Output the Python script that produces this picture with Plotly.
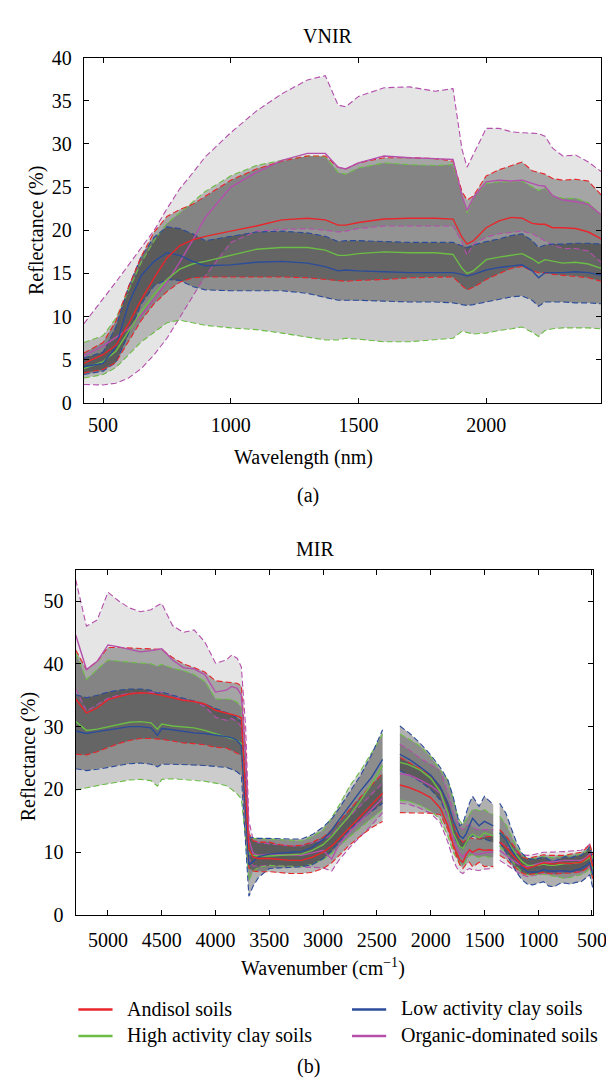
import plotly.graph_objects as go

# ---------------- VNIR data (wavelength, nm) ----------------
vnir_nm = [425, 500, 550, 600, 650, 700, 750, 800, 850, 900,
           1000, 1100, 1200, 1300, 1370, 1420, 1450, 1500, 1600, 1700,
           1800, 1870, 1905, 1925, 1950, 2000, 2050, 2100, 2140, 2180,
           2205, 2230, 2260, 2300, 2350, 2400, 2450]

org_hi = [9.2, 12.0, 14.0, 16.0, 18.0, 20.0, 22.5, 24.8, 26.6, 28.5,
          31.3, 33.8, 35.8, 37.4, 37.9, 34.5, 34.3, 35.5, 36.5, 36.6,
          36.1, 36.4, 29.4, 27.3, 28.8, 31.8, 31.8, 31.4, 31.3, 31.2,
          31.2, 30.9, 29.5, 28.6, 28.7, 27.9, 26.8]
org_m = [5.5, 6.6, 7.6, 8.6, 10.2, 12.0, 14.0, 16.3, 18.8, 21.5,
         25.0, 26.7, 28.1, 28.9, 28.9, 27.3, 27.1, 27.8, 28.6, 28.4,
         28.3, 28.2, 24.0, 22.3, 23.8, 25.6, 25.8, 25.7, 25.8, 25.4,
         25.2, 25.1, 24.0, 23.5, 23.3, 23.0, 21.8]
org_lo = [2.15, 2.1, 2.3, 2.9, 4.0, 5.6, 7.5, 9.9, 12.3, 14.7,
          18.6, 19.9, 20.1, 20.2, 20.0, 19.8, 19.9, 20.2, 20.5, 20.5,
          20.5, 20.5, 18.6, 17.1, 18.4, 19.2, 19.6, 19.8, 19.9, 19.6,
          19.2, 18.8, 18.3, 17.9, 17.9, 17.6, 16.3]

and_hi = [5.8, 7.0, 9.5, 13.5, 17.0, 19.8, 21.6, 22.4, 23.0, 23.9,
          25.8, 27.1, 28.0, 28.6, 28.6, 27.3, 27.1, 27.8, 28.4, 28.4,
          28.3, 28.0, 24.5, 23.5, 24.0, 26.3, 27.0, 27.5, 27.9, 26.9,
          26.7, 26.5, 26.0, 25.8, 25.9, 25.7, 24.1]
and_m = [4.6, 5.6, 6.7, 9.2, 12.0, 14.5, 16.8, 18.2, 18.9, 19.3,
         19.9, 20.5, 21.2, 21.4, 21.2, 20.6, 20.6, 20.9, 21.3, 21.4,
         21.4, 21.3, 19.2, 18.4, 18.8, 20.3, 21.1, 21.5, 21.4, 20.8,
         20.7, 20.7, 20.3, 20.3, 20.2, 19.8, 19.0]
and_lo = [3.5, 3.9, 4.7, 7.2, 9.6, 11.5, 12.9, 14.0, 14.5, 14.6,
          14.6, 14.6, 14.6, 14.5, 14.3, 14.1, 14.1, 14.2, 14.3, 14.5,
          14.6, 14.6, 13.6, 13.1, 13.4, 14.3, 15.0, 15.6, 15.8, 15.3,
          15.1, 15.1, 14.9, 14.8, 14.7, 14.5, 14.1]

hac_hi = [7.0, 7.8, 9.8, 13.0, 16.3, 18.8, 20.8, 22.0, 23.3, 24.5,
          26.3, 27.5, 28.1, 28.6, 28.5, 26.7, 26.5, 27.2, 27.8, 27.6,
          27.5, 27.6, 24.0, 22.0, 23.8, 25.4, 25.6, 25.6, 25.7, 25.0,
          24.6, 24.9, 24.0, 23.7, 23.7, 23.2, 21.8]
hac_m = [4.0, 4.8, 6.0, 8.3, 10.6, 12.6, 14.3, 15.5, 16.1, 16.4,
         17.1, 17.8, 18.0, 18.0, 17.7, 17.1, 17.1, 17.3, 17.5, 17.4,
         17.4, 17.2, 15.6, 15.0, 15.3, 16.6, 16.9, 17.1, 17.3, 16.7,
         16.2, 16.6, 16.4, 16.2, 16.3, 16.1, 15.6]
hac_lo = [2.9, 3.3, 4.1, 5.6, 7.1, 8.2, 9.3, 9.6, 9.3, 9.0,
          8.7, 8.5, 8.1, 7.6, 7.3, 7.3, 7.5, 7.4, 7.1, 7.1,
          7.3, 7.5, 8.3, 8.2, 8.0, 8.1, 8.4, 8.6, 8.8, 8.2,
          7.7, 8.4, 8.6, 8.7, 8.7, 8.7, 8.6]

lac_hi = [5.2, 5.9, 8.8, 13.5, 17.0, 19.2, 20.4, 20.2, 19.6, 18.8,
          19.3, 19.8, 19.9, 19.7, 19.3, 18.7, 18.8, 18.8, 18.7, 18.6,
          18.6, 18.6, 18.2, 18.0, 18.3, 18.7, 19.0, 19.4, 19.6, 18.8,
          18.0, 18.3, 18.4, 18.4, 18.5, 18.5, 18.4]
lac_m = [4.2, 4.6, 6.5, 11.5, 14.8, 16.4, 17.4, 17.1, 16.4, 15.9,
         16.0, 16.3, 16.4, 16.2, 15.8, 15.3, 15.4, 15.3, 15.2, 15.1,
         15.1, 15.1, 14.9, 14.7, 14.9, 15.4, 15.7, 15.9, 16.0, 15.3,
         14.5, 15.1, 15.1, 15.1, 15.2, 15.1, 14.8]
lac_lo = [3.3, 3.7, 4.7, 8.0, 11.5, 13.6, 14.3, 14.2, 13.5, 13.1,
          13.0, 13.0, 13.0, 12.7, 12.2, 11.9, 11.9, 11.9, 11.8, 11.7,
          11.7, 11.6, 11.4, 11.3, 11.4, 11.7, 12.0, 12.3, 12.4, 11.9,
          11.2, 11.7, 11.7, 11.7, 11.6, 11.6, 11.5]

# ---------------- MIR data (wavenumber, cm-1), three segments ----------------
mir_wn_a = [5300, 5200, 5100, 5000, 4900, 4800, 4700, 4600, 4540, 4500,
            4400, 4300, 4200, 4100, 4000, 3900, 3850, 3800, 3760, 3720,
            3690, 3650, 3600, 3500, 3400, 3300, 3200, 3100, 3000, 2920,
            2850, 2750, 2650, 2550, 2447]
mir_wn_b = [2286, 2200, 2100, 2000, 1910, 1840, 1790, 1760, 1730, 1700,
            1670, 1640, 1610, 1580, 1550, 1500, 1460, 1418]
mir_wn_c = [1358, 1300, 1250, 1200, 1150, 1100, 1050, 1000, 950, 900,
            850, 800, 750, 700, 650, 600, 550, 520, 493]

mir_org_hi = ([53.4, 46.0, 47.0, 51.4, 50.0, 48.9, 48.3, 48.6, 49.3, 49.6,
               46.1, 45.0, 45.4, 43.5, 40.1, 40.6, 41.4, 40.9, 39.5, 30.0,
               15.0, 12.0, 11.5, 11.3, 11.1, 11.0, 11.0, 11.5, 12.0, 12.8,
               14.0, 15.8, 17.5, 19.3, 21.0]
              + [27.2, 26.3, 25.0, 24.0, 23.0, 19.4, 16.3, 15.0, 14.0, 13.6,
                 14.2, 14.4, 14.0, 13.7, 13.6, 13.6, 13.6, 13.6]
              + [11.6, 11.0, 10.5, 10.0, 9.6, 9.5, 9.6, 9.8, 10.0, 10.0,
                 10.0, 10.1, 10.1, 10.2, 10.2, 10.3, 10.8, 11.3, 9.5])
mir_org_m = ([44.6, 39.1, 40.4, 43.0, 42.7, 42.3, 41.9, 42.1, 42.3, 42.4,
              40.6, 39.4, 39.2, 38.3, 35.5, 35.8, 36.4, 36.1, 35.0, 25.0,
              12.0, 9.8, 9.5, 9.7, 9.6, 9.5, 9.5, 9.9, 10.3, 8.9,
              11.3, 13.3, 15.0, 16.8, 18.6]
             + [22.5, 22.3, 21.5, 20.6, 19.4, 15.7, 12.2, 10.8, 9.8, 9.2,
                9.9, 10.2, 9.9, 9.7, 9.7, 9.9, 10.0, 10.0]
             + [10.3, 9.5, 8.9, 8.3, 7.8, 7.7, 7.9, 8.2, 8.4, 8.4,
                8.5, 8.7, 8.7, 8.7, 8.7, 8.7, 9.2, 9.7, 7.9])
mir_org_lo = ([36.0, 32.5, 33.5, 34.5, 35.0, 35.3, 35.4, 35.5, 35.4, 35.5,
               35.0, 34.3, 34.0, 33.2, 31.5, 31.0, 31.3, 30.8, 30.0, 20.0,
               9.0, 7.8, 7.8, 7.9, 7.8, 7.7, 7.7, 7.6, 7.5, 7.0,
               8.8, 10.8, 12.5, 14.3, 16.3]
              + [17.8, 17.6, 17.0, 16.2, 14.7, 11.6, 8.8, 7.6, 6.9, 6.6,
                 7.1, 7.4, 7.2, 7.1, 7.1, 7.3, 7.4, 7.4]
              + [8.7, 8.1, 7.5, 6.9, 6.4, 6.1, 6.2, 6.4, 6.6, 6.6,
                 6.7, 6.9, 6.9, 6.9, 6.9, 6.9, 7.4, 7.9, 6.4])

mir_and_hi = ([42.2, 39.1, 40.4, 42.6, 42.6, 42.5, 42.5, 42.4, 42.3, 42.3,
               41.0, 40.0, 39.4, 38.7, 37.3, 37.1, 37.0, 36.9, 36.5, 26.0,
               13.0, 11.8, 11.6, 11.6, 11.2, 11.0, 11.1, 11.6, 12.4, 13.5,
               14.9, 16.9, 18.8, 20.7, 22.5]
              + [25.1, 24.3, 23.3, 22.2, 20.4, 17.8, 14.5, 13.1, 12.2, 11.6,
                 12.0, 12.3, 12.2, 12.1, 12.1, 12.4, 12.5, 12.6]
              + [13.6, 12.6, 11.5, 10.3, 9.2, 9.0, 9.2, 9.4, 9.6, 9.5,
                 9.5, 9.6, 9.5, 9.7, 9.9, 10.0, 10.7, 11.3, 9.5])
mir_and_m = ([34.4, 32.2, 33.0, 34.3, 34.8, 35.2, 35.4, 35.3, 35.1, 35.0,
              34.6, 34.2, 34.0, 33.6, 32.6, 32.2, 32.0, 31.7, 31.4, 20.0,
              10.5, 9.2, 9.0, 9.0, 8.8, 8.7, 8.7, 9.2, 10.0, 11.0,
              12.2, 14.0, 15.7, 17.5, 19.4]
             + [20.7, 20.3, 19.6, 18.7, 17.0, 14.2, 11.2, 9.9, 8.8, 8.4,
                9.6, 10.4, 10.0, 10.3, 10.5, 10.3, 10.4, 10.3]
             + [11.6, 10.8, 9.8, 8.8, 7.9, 7.4, 7.7, 8.0, 8.3, 8.2,
                8.1, 8.3, 8.2, 8.2, 8.3, 8.4, 9.0, 9.5, 7.7])
mir_and_lo = ([25.6, 25.5, 26.0, 26.7, 27.3, 27.8, 28.1, 28.1, 28.0, 28.0,
               27.7, 27.4, 27.3, 27.1, 26.7, 26.6, 26.2, 25.8, 25.4, 15.0,
               7.5, 7.0, 6.9, 6.9, 6.7, 6.6, 6.6, 6.8, 7.4, 8.3,
               9.5, 11.2, 12.6, 13.9, 14.9]
              + [16.3, 16.3, 16.3, 16.2, 16.0, 13.6, 10.8, 9.3, 8.0, 7.4,
                 8.1, 8.4, 7.7, 8.0, 8.4, 7.7, 7.8, 7.7]
              + [9.5, 8.9, 8.0, 7.3, 6.7, 6.4, 6.5, 6.6, 6.8, 6.6,
                 6.5, 6.6, 6.6, 6.7, 6.8, 6.9, 7.4, 7.9, 5.8])

mir_hac_hi = ([41.7, 37.5, 39.1, 40.6, 40.4, 40.2, 40.1, 40.0, 39.6, 39.9,
               39.3, 38.9, 38.3, 37.2, 34.4, 34.4, 34.3, 33.9, 33.0, 22.0,
               12.5, 12.2, 12.2, 12.1, 12.0, 11.9, 11.8, 12.5, 13.5, 15.5,
               17.5, 20.6, 23.0, 25.8, 28.8]
              + [28.8, 28.0, 26.9, 25.2, 23.0, 21.5, 18.5, 16.5, 15.0, 14.4,
                 15.2, 16.0, 16.8, 16.8, 16.6, 16.8, 16.3, 16.0]
              + [15.7, 14.4, 12.6, 10.8, 9.6, 9.0, 9.0, 9.1, 9.3, 9.2,
                 9.1, 9.4, 9.5, 9.4, 9.6, 9.7, 10.2, 10.8, 9.0])
mir_hac_m = ([30.8, 29.4, 29.6, 30.0, 30.4, 30.7, 30.8, 30.6, 29.6, 30.4,
              30.1, 29.9, 29.8, 29.4, 28.9, 28.4, 28.1, 27.8, 27.3, 18.0,
              9.8, 9.5, 9.4, 9.4, 9.5, 9.6, 9.7, 10.3, 11.2, 12.5,
              13.9, 15.9, 18.3, 20.9, 23.8]
             + [24.3, 23.9, 23.1, 21.8, 19.6, 16.3, 13.0, 11.8, 10.9, 10.6,
                11.6, 12.4, 12.9, 12.6, 12.3, 13.1, 12.8, 12.6]
             + [13.1, 12.0, 10.8, 9.5, 8.5, 7.9, 7.9, 7.9, 8.1, 7.9,
                7.9, 8.1, 8.2, 8.2, 8.3, 8.4, 8.8, 9.2, 7.4])
mir_hac_lo = ([19.9, 20.3, 20.6, 20.9, 21.2, 21.5, 21.6, 21.4, 20.5, 21.6,
               21.7, 21.6, 21.5, 21.3, 21.0, 20.6, 20.0, 19.3, 18.5, 12.0,
               5.5, 7.0, 7.6, 7.9, 7.8, 7.7, 7.7, 8.1, 8.8, 9.8,
               11.0, 12.5, 14.0, 15.4, 16.8]
              + [18.3, 18.1, 17.5, 16.6, 15.2, 12.6, 10.0, 9.0, 8.2, 7.9,
                 8.8, 9.5, 9.6, 9.3, 9.2, 9.4, 9.2, 9.2]
              + [11.0, 9.9, 8.9, 7.7, 6.8, 6.4, 6.4, 6.4, 6.5, 6.3,
                 6.2, 6.0, 5.8, 6.0, 6.3, 6.4, 6.9, 7.4, 5.8])

mir_lac_hi = ([35.1, 34.6, 35.0, 35.5, 35.8, 36.0, 36.0, 35.8, 35.3, 35.5,
               35.0, 34.5, 34.1, 33.6, 32.9, 32.3, 31.9, 31.4, 30.8, 21.0,
               12.5, 12.3, 12.2, 12.2, 12.1, 12.1, 12.1, 12.8, 14.0, 15.3,
               17.0, 19.7, 22.3, 25.5, 29.5]
              + [30.1, 29.0, 27.4, 25.5, 23.5, 21.5, 18.8, 16.5, 14.2, 14.6,
                 16.3, 17.8, 18.9, 18.0, 17.3, 18.9, 18.3, 17.6]
              + [17.8, 16.2, 13.8, 11.5, 9.8, 9.0, 8.9, 9.0, 9.3, 8.8,
                 8.6, 9.0, 9.3, 9.1, 9.4, 9.5, 10.2, 10.9, 8.4])
mir_lac_m = ([29.3, 28.9, 29.2, 29.5, 29.8, 30.0, 30.0, 29.8, 28.6, 29.7,
              29.5, 29.2, 29.0, 28.9, 28.7, 28.4, 28.2, 27.8, 27.0, 17.0,
              8.0, 8.5, 9.3, 9.7, 9.9, 10.0, 10.1, 10.8, 12.0, 13.5,
              15.2, 17.6, 19.8, 21.9, 24.8]
             + [25.6, 24.8, 23.6, 22.3, 20.4, 17.8, 15.0, 13.8, 12.6, 12.2,
                12.9, 14.2, 15.4, 14.8, 14.2, 14.9, 14.5, 14.2]
             + [13.1, 12.0, 10.4, 8.9, 7.6, 6.9, 6.8, 6.9, 7.2, 7.0,
                7.0, 7.1, 7.0, 6.9, 7.1, 7.4, 7.9, 8.4, 6.4])
mir_lac_lo = ([23.3, 23.0, 23.2, 23.5, 23.8, 24.1, 24.2, 24.0, 23.6, 24.0,
               24.0, 24.0, 23.9, 23.8, 23.7, 23.5, 23.2, 22.8, 22.2, 12.0,
               3.0, 4.6, 6.0, 7.4, 7.5, 7.6, 7.7, 8.0, 9.0, 10.2,
               11.6, 13.6, 15.2, 16.5, 17.8]
              + [23.0, 22.3, 21.3, 20.0, 18.3, 15.7, 13.0, 11.7, 10.9, 10.5,
                 11.4, 12.2, 12.6, 12.3, 12.1, 12.1, 11.9, 11.6]
              + [11.6, 10.0, 8.3, 6.8, 5.6, 4.9, 4.8, 5.1, 5.3, 4.6,
                 4.5, 5.0, 5.1, 4.9, 5.2, 5.3, 5.9, 6.4, 4.3])

class_names = ["Andisol soils", "High activity clay soils",
               "Low activity clay soils", "Organic-dominated soils"]
class_colors = ["#e8262b", "#6cbd45", "#2b4c9b", "#b44fac"]
band_alpha = [0.28, 0.20, 0.31, 0.10]

vnir_sets = [(and_lo, and_m, and_hi), (hac_lo, hac_m, hac_hi),
             (lac_lo, lac_m, lac_hi), (org_lo, org_m, org_hi)]
mir_sets = [(mir_and_lo, mir_and_m, mir_and_hi), (mir_hac_lo, mir_hac_m, mir_hac_hi),
            (mir_lac_lo, mir_lac_m, mir_lac_hi), (mir_org_lo, mir_org_m, mir_org_hi)]

# ---------------- figure ----------------
W, H = 614, 1088
SERIF = "Liberation Serif"


def fx(p):
    return p / W


def fy(p):
    return 1 - p / H


fig = go.Figure()

seg_lens = [len(mir_wn_a), len(mir_wn_b), len(mir_wn_c)]
seg_x = [mir_wn_a, mir_wn_b, mir_wn_c]


def split(vals):
    out, s = [], 0
    for n in seg_lens:
        out.append(vals[s:s + n])
        s += n
    return out


panels = [("x", "y", [vnir_nm], lambda v: [v], vnir_sets),
          ("x2", "y2", seg_x, split, mir_sets)]

for xa, ya, xs_list, splitter, sets in panels:
    # bands
    for k in [3, 1, 2, 0]:
        lo, m, hi = sets[k]
        for xs, l, h in zip(xs_list, splitter(lo), splitter(hi)):
            fig.add_trace(go.Scatter(
                x=list(xs) + list(xs)[::-1], y=list(h) + list(l)[::-1],
                xaxis=xa, yaxis=ya, mode="lines", line=dict(width=0),
                fill="toself", fillcolor=f"rgba(0,0,0,{band_alpha[k]})",
                hoverinfo="skip", showlegend=False))
    # dashed bounds
    for k in [3, 1, 2, 0]:
        lo, m, hi = sets[k]
        for xs, l, h in zip(xs_list, splitter(lo), splitter(hi)):
            for vals in (l, h):
                fig.add_trace(go.Scatter(
                    x=xs, y=vals, xaxis=xa, yaxis=ya, mode="lines",
                    line=dict(color=class_colors[k], width=1.1, dash="6px,3px"),
                    hoverinfo="skip", showlegend=False))
    # means
    for k in [3, 1, 2, 0]:
        lo, m, hi = sets[k]
        for xs, mm in zip(xs_list, splitter(m)):
            fig.add_trace(go.Scatter(
                x=xs, y=mm, xaxis=xa, yaxis=ya, mode="lines",
                line=dict(color=class_colors[k], width=1.4),
                hoverinfo="skip", showlegend=False))

axis_common = dict(showline=True, linecolor="black", linewidth=1.2, mirror="ticks",
                   ticks="inside", ticklen=5, tickwidth=1, tickcolor="black",
                   showgrid=False, zeroline=False,
                   tickfont=dict(family=SERIF, size=20, color="black"))

fig.update_layout(
    width=W, height=H, autosize=False,
    margin=dict(l=0, r=0, t=0, b=0),
    paper_bgcolor="white", plot_bgcolor="white",
    showlegend=False,
    font=dict(family=SERIF, size=20, color="black"),
    xaxis=dict(domain=[fx(77.7), fx(607)], range=[425, 2450], anchor="y",
               tickvals=[500, 1000, 1500, 2000], ticklabelstandoff=4, **axis_common),
    yaxis=dict(domain=[fy(392), fy(39.3)], range=[0, 40], anchor="x",
               tickvals=[0, 5, 10, 15, 20, 25, 30, 35, 40], ticklabelstandoff=7,
               **axis_common),
    xaxis2=dict(domain=[fx(69.3), fx(598.7)], range=[5300, 490], anchor="y2",
                tickvals=[5000, 4500, 4000, 3500, 3000, 2500, 2000, 1500, 1000, 500],
                ticklabelstandoff=7, **axis_common),
    yaxis2=dict(domain=[fy(914.5), fy(562)], range=[0, 55], anchor="x2",
                tickvals=[0, 10, 20, 30, 40, 50], ticklabelstandoff=7, **axis_common),
)

texts = [
    ("VNIR", 327, 17, 0),
    ("Wavelength (nm)", 302, 448, 0),
    ("(a)", 307, 486, 0),
    ("Reflectance (%)", 29, 216, -90),
    ("MIR", 314, 541, 0),
    ("Wavenumber (cm<sup>−1</sup>)", 322, 968, 0),
    ("Reflectance (%)", 21, 753, -90),
    ("(b)", 308, 1069, 0),
]
for t, x, y, ang in texts:
    fig.add_annotation(text=t, x=fx(x), y=fy(y), xref="paper", yref="paper",
                       xanchor="center", yanchor="middle", showarrow=False,
                       textangle=ang, font=dict(family=SERIF, size=20, color="black"))

# legend (two columns)
legend_pos = [(72, 1011), (72, 1038), (352, 1011), (352, 1038)]
for k, (lx, ly) in enumerate(legend_pos):
    fig.add_shape(type="line", xref="paper", yref="paper",
                  x0=fx(lx), x1=fx(lx + 35), y0=fy(ly), y1=fy(ly),
                  line=dict(color=class_colors[k], width=2.5))
    fig.add_annotation(text=class_names[k], x=fx(lx + 48), y=fy(ly - 1),
                       xref="paper", yref="paper", xanchor="left", yanchor="middle",
                       showarrow=False, font=dict(family=SERIF, size=20, color="black"))

fig.write_html("out.html")
